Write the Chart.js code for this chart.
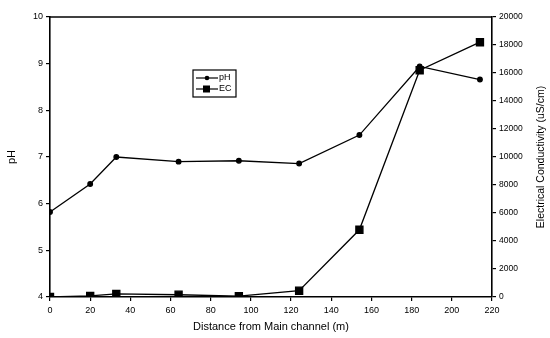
<!DOCTYPE html>
<html>
<head>
<meta charset="utf-8">
<script src="https://cdn.jsdelivr.net/npm/chart.js@4"></script>
<style>
  html, body { margin: 0; padding: 0; background: #fff; }
  #wrap { width: 550px; height: 338px; position: relative; }
</style>
</head>
<body>
<div id="wrap"><canvas id="grafico"></canvas></div>
<script>
// distâncias (m) e valores
const distancias = [0, 20, 33, 64, 94, 124, 154, 184, 214];
const valoresPH = [5.82, 6.42, 7.0, 6.9, 6.92, 6.86, 7.47, 8.94, 8.66];
const valoresEC = [0, 80, 220, 160, 60, 450, 4800, 16200, 18200];

const ticksPH = [4, 5, 6, 7, 8, 9, 10];
const ticksEC = [0, 2000, 4000, 6000, 8000, 10000, 12000, 14000, 16000, 18000, 20000];
const ticksX = [0, 20, 40, 60, 80, 100, 120, 140, 160, 180, 200, 220];

const fonte = '"Liberation Sans", Arial, sans-serif';

// moldura superior, legenda interna e título do eixo direito
const extras = {
    id: 'extras',
    afterDraw(chart) {
        const ctx = chart.ctx;
        const a = chart.chartArea;
        ctx.save();
        ctx.strokeStyle = '#000';
        ctx.lineWidth = 1.5;
        ctx.beginPath();
        ctx.moveTo(a.left, a.top);
        ctx.lineTo(a.right, a.top);
        ctx.stroke();

        // legenda
        const lx = 193, ly = 70, lw = 43, lh = 27;
        ctx.lineWidth = 1.2;
        ctx.strokeRect(lx, ly, lw, lh);
        ctx.font = '9px ' + fonte;
        ctx.fillStyle = '#000';
        ctx.textBaseline = 'middle';
        const linhas = [
            { txt: 'pH', y: ly + 8, quadrado: false },
            { txt: 'EC', y: ly + 19, quadrado: true }
        ];
        linhas.forEach(l => {
            ctx.beginPath();
            ctx.moveTo(lx + 3, l.y);
            ctx.lineTo(lx + 25, l.y);
            ctx.stroke();
            if (l.quadrado) {
                ctx.fillRect(lx + 10, l.y - 3.5, 7, 7);
            } else {
                ctx.beginPath();
                ctx.arc(lx + 14, l.y, 2.3, 0, Math.PI * 2);
                ctx.fill();
            }
            ctx.fillText(l.txt, lx + 26, l.y);
        });

        // título do eixo direito (de baixo para cima)
        ctx.translate(541, (a.top + a.bottom) / 2);
        ctx.rotate(-Math.PI / 2);
        ctx.textAlign = 'center';
        ctx.font = '10.5px ' + fonte;
        ctx.fillText('Electrical Conductivity (uS/cm)', 0, 0);
        ctx.restore();
    }
};

const eixoPreto = {
    grid: { display: true, drawOnChartArea: false, drawTicks: true, tickLength: 4, color: '#000', lineWidth: 1.2 },
    border: { display: true, color: '#000', width: 1.6 }
};

new Chart(document.getElementById('grafico').getContext('2d'), {
    type: 'line',
    data: {
        datasets: [{
            label: 'pH',
            data: distancias.map((d, i) => ({ x: d, y: valoresPH[i] })),
            yAxisID: 'y',
            borderColor: '#000',
            backgroundColor: '#000',
            borderWidth: 1.3,
            pointStyle: 'circle',
            pointRadius: 2.3,
            tension: 0
        }, {
            label: 'EC',
            data: distancias.map((d, i) => ({ x: d, y: valoresEC[i] })),
            yAxisID: 'y1',
            borderColor: '#000',
            backgroundColor: '#000',
            borderWidth: 1.3,
            pointStyle: 'rect',
            pointRadius: 5,
            tension: 0
        }]
    },
    options: {
        responsive: true,
        maintainAspectRatio: false,
        animation: false,
        layout: { padding: { top: 17, left: 0, right: 0, bottom: 0 } },
        plugins: {
            legend: { display: false },
            tooltip: { enabled: false }
        },
        scales: {
            x: {
                type: 'linear',
                min: 0,
                max: 220,
                afterBuildTicks: s => { s.ticks = ticksX.map(v => ({ value: v })); },
                afterFit: s => { s.height = 41; },
                ticks: { color: '#000', font: { family: fonte, size: 9 }, padding: 4, maxRotation: 0 },
                title: { display: true, text: 'Distance from Main channel (m)', color: '#000', font: { family: fonte, size: 11 }, padding: { top: 1 } },
                ...eixoPreto
            },
            y: {
                position: 'left',
                min: 4,
                max: 10,
                afterBuildTicks: s => { s.ticks = ticksPH.map(v => ({ value: v })); },
                afterFit: s => { s.width = 50; },
                ticks: { color: '#000', font: { family: fonte, size: 9 }, padding: 3 },
                title: { display: true, text: 'pH', color: '#000', font: { family: fonte, size: 11 }, padding: { top: 5, bottom: 0 } },
                ...eixoPreto
            },
            y1: {
                position: 'right',
                min: 0,
                max: 20000,
                afterBuildTicks: s => { s.ticks = ticksEC.map(v => ({ value: v })); },
                afterFit: s => { s.width = 58; },
                ticks: { color: '#000', font: { family: fonte, size: 8.5 }, padding: 3, callback: v => String(v) },
                ...eixoPreto
            }
        }
    },
    plugins: [extras]
});
</script>
</body>
</html>
